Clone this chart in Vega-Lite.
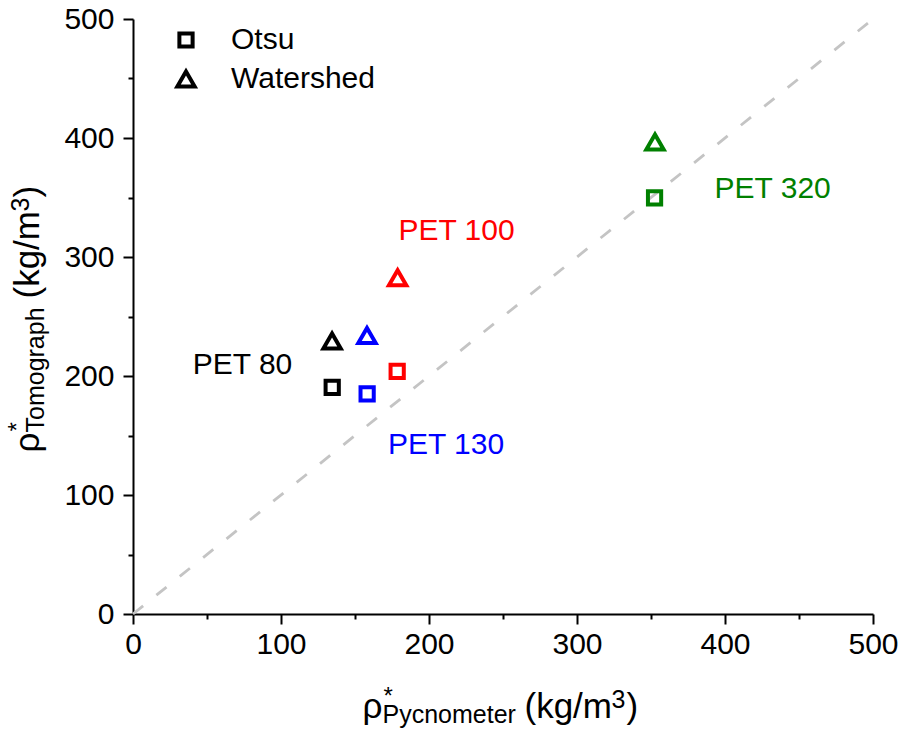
{
  "$schema": "https://vega.github.io/schema/vega-lite/v6.json",
  "width": 740,
  "height": 595,
  "autosize": "none",
  "padding": {"left": 133, "top": 19, "right": 30, "bottom": 118},
  "background": "white",
  "config": {
    "view": {"stroke": null},
    "font": "Liberation Sans",
    "axis": {"grid": false, "domainColor": "black", "tickColor": "black", "labelColor": "black", "titleColor": "black", "titleFont": "Liberation Sans", "labelFont": "Liberation Sans", "titleFontWeight": "normal", "titlePadding": 0},
    "legend": {"labelFont": "Liberation Sans"}
  },
  "datasets": {
    "points": [
      {"sample": "PET 80", "method": "Otsu", "x": 134.6, "y": 190.5},
      {"sample": "PET 80", "method": "Watershed", "x": 134.5, "y": 229.5},
      {"sample": "PET 130", "method": "Otsu", "x": 158.2, "y": 184.9},
      {"sample": "PET 130", "method": "Watershed", "x": 158.1, "y": 234.0},
      {"sample": "PET 100", "method": "Otsu", "x": 178.5, "y": 203.9},
      {"sample": "PET 100", "method": "Watershed", "x": 178.8, "y": 282.6},
      {"sample": "PET 320", "method": "Otsu", "x": 352.4, "y": 349.6},
      {"sample": "PET 320", "method": "Watershed", "x": 352.7, "y": 396.7}
    ],
    "labels": [
      {"sample": "PET 80", "label": "PET 80", "x": 74, "y": 209.6},
      {"sample": "PET 100", "label": "PET 100", "x": 218.6, "y": 321.5},
      {"sample": "PET 130", "label": "PET 130", "x": 211.5, "y": 142.3},
      {"sample": "PET 320", "label": "PET 320", "x": 432.2, "y": 357.3}
    ],
    "diag": [{"x": 0, "y": 0}, {"x": 500, "y": 500}]
  },
  "resolve": {"axis": {"x": "independent", "y": "independent"}},
  "layer": [
    {
      "data": {"name": "diag"},
      "mark": {"type": "line", "color": "#c4c4c4", "strokeWidth": 2.8, "strokeDash": [13, 17]},
      "encoding": {
        "x": {"field": "x", "type": "quantitative", "axis": null},
        "y": {"field": "y", "type": "quantitative", "axis": null}
      }
    },
    {
      "data": {"name": "points"},
      "mark": {"type": "point", "filled": false, "strokeWidth": 4, "opacity": 1},
      "encoding": {
        "x": {"field": "x", "type": "quantitative", "scale": {"domain": [0, 500], "nice": false, "zero": false},
          "axis": {"orient": "bottom", "values": [0, 100, 200, 300, 400, 500], "title": null, "labelFontSize": 30, "tickSize": 10, "tickWidth": 2, "domainWidth": 2, "labelPadding": 5, "labelFlush": false, "labelOverlap": false}},
        "y": {"field": "y", "type": "quantitative", "scale": {"domain": [0, 500], "nice": false, "zero": false},
          "axis": {"orient": "left", "values": [0, 100, 200, 300, 400, 500], "title": null, "labelFontSize": 30, "tickSize": 10, "tickWidth": 2, "domainWidth": 2, "labelPadding": 9, "labelFlush": false, "labelOverlap": false}},
        "color": {"field": "sample", "type": "nominal", "scale": {"domain": ["PET 80", "PET 100", "PET 130", "PET 320"], "range": ["#000000", "#FF0000", "#0000FF", "#008000"]}, "legend": null},
        "shape": {"field": "method", "type": "nominal", "scale": {"domain": ["Otsu", "Watershed"], "range": ["square", "triangle-up"]},
          "legend": {"orient": "none", "legendX": 38, "legendY": 6, "title": null, "labelFontSize": 30, "symbolStrokeWidth": 4, "symbolStrokeColor": "black", "rowPadding": 8, "labelOffset": 30, "padding": 0}},
        "size": {"field": "method", "type": "nominal", "scale": {"domain": ["Otsu", "Watershed"], "range": [175, 300]},
          "legend": {"orient": "none", "legendX": 38, "legendY": 6, "title": null, "labelFontSize": 30, "symbolStrokeWidth": 4, "symbolStrokeColor": "black", "rowPadding": 8, "labelOffset": 30, "padding": 0}}
      }
    },
    {
      "data": {"name": "labels"},
      "mark": {"type": "text", "fontSize": 30, "align": "center", "baseline": "middle"},
      "encoding": {
        "x": {"field": "x", "type": "quantitative", "axis": null},
        "y": {"field": "y", "type": "quantitative", "axis": null},
        "text": {"field": "label"},
        "color": {"field": "sample", "type": "nominal", "legend": null}
      }
    },
    {
      "data": {"name": "points"},
      "mark": {"type": "point", "opacity": 0},
      "encoding": {
        "x": {"field": "x", "type": "quantitative", "axis": {"orient": "bottom", "values": [50, 150, 250, 350, 450], "labels": false, "domain": false, "tickSize": 5, "tickWidth": 2, "title": "ρ", "titleFontSize": 35, "titleX": 229, "titleY": 103, "titleAlign": "left", "titleBaseline": "alphabetic", "titleAngle": 0}},
        "y": {"field": "y", "type": "quantitative", "axis": {"orient": "left", "values": [50, 150, 250, 350, 450], "labels": false, "domain": false, "tickSize": 5, "tickWidth": 2, "title": "ρ", "titleFontSize": 35, "titleX": -95, "titleY": 433, "titleAlign": "left", "titleBaseline": "alphabetic", "titleAngle": 270}}
      }
    },
    {
      "data": {"name": "points"},
      "mark": {"type": "point", "opacity": 0},
      "encoding": {
        "x": {"field": "x", "type": "quantitative", "axis": {"orient": "bottom", "labels": false, "ticks": false, "domain": false, "title": "*", "titleFontSize": 24, "titleX": 250, "titleY": 89, "titleAlign": "left", "titleBaseline": "alphabetic", "titleAngle": 0}},
        "y": {"field": "y", "type": "quantitative", "axis": {"orient": "left", "labels": false, "ticks": false, "domain": false, "title": "*", "titleFontSize": 24, "titleX": -109, "titleY": 412, "titleAlign": "left", "titleBaseline": "alphabetic", "titleAngle": 270}}
      }
    },
    {
      "data": {"name": "points"},
      "mark": {"type": "point", "opacity": 0},
      "encoding": {
        "x": {"field": "x", "type": "quantitative", "axis": {"orient": "bottom", "labels": false, "ticks": false, "domain": false, "title": "Pycnometer", "titleFontSize": 25, "titleX": 249, "titleY": 108, "titleAlign": "left", "titleBaseline": "alphabetic", "titleAngle": 0}},
        "y": {"field": "y", "type": "quantitative", "axis": {"orient": "left", "labels": false, "ticks": false, "domain": false, "title": "Tomograph", "titleFontSize": 25, "titleX": -90, "titleY": 413, "titleAlign": "left", "titleBaseline": "alphabetic", "titleAngle": 270}}
      }
    },
    {
      "data": {"name": "points"},
      "mark": {"type": "point", "opacity": 0},
      "encoding": {
        "x": {"field": "x", "type": "quantitative", "axis": {"orient": "bottom", "labels": false, "ticks": false, "domain": false, "title": "(kg/m", "titleFontSize": 35, "titleX": 391, "titleY": 103, "titleAlign": "left", "titleBaseline": "alphabetic", "titleAngle": 0}},
        "y": {"field": "y", "type": "quantitative", "axis": {"orient": "left", "labels": false, "ticks": false, "domain": false, "title": "(kg/m", "titleFontSize": 35, "titleX": -95, "titleY": 279, "titleAlign": "left", "titleBaseline": "alphabetic", "titleAngle": 270}}
      }
    },
    {
      "data": {"name": "points"},
      "mark": {"type": "point", "opacity": 0},
      "encoding": {
        "x": {"field": "x", "type": "quantitative", "axis": {"orient": "bottom", "labels": false, "ticks": false, "domain": false, "title": "3", "titleFontSize": 25, "titleX": 478, "titleY": 93, "titleAlign": "left", "titleBaseline": "alphabetic", "titleAngle": 0}},
        "y": {"field": "y", "type": "quantitative", "axis": {"orient": "left", "labels": false, "ticks": false, "domain": false, "title": "3", "titleFontSize": 25, "titleX": -105, "titleY": 192, "titleAlign": "left", "titleBaseline": "alphabetic", "titleAngle": 270}}
      }
    },
    {
      "data": {"name": "points"},
      "mark": {"type": "point", "opacity": 0},
      "encoding": {
        "x": {"field": "x", "type": "quantitative", "axis": {"orient": "bottom", "labels": false, "ticks": false, "domain": false, "title": ")", "titleFontSize": 35, "titleX": 493, "titleY": 103, "titleAlign": "left", "titleBaseline": "alphabetic", "titleAngle": 0}},
        "y": {"field": "y", "type": "quantitative", "axis": {"orient": "left", "labels": false, "ticks": false, "domain": false, "title": ")", "titleFontSize": 35, "titleX": -95, "titleY": 178, "titleAlign": "left", "titleBaseline": "alphabetic", "titleAngle": 270}}
      }
    }
  ]
}
